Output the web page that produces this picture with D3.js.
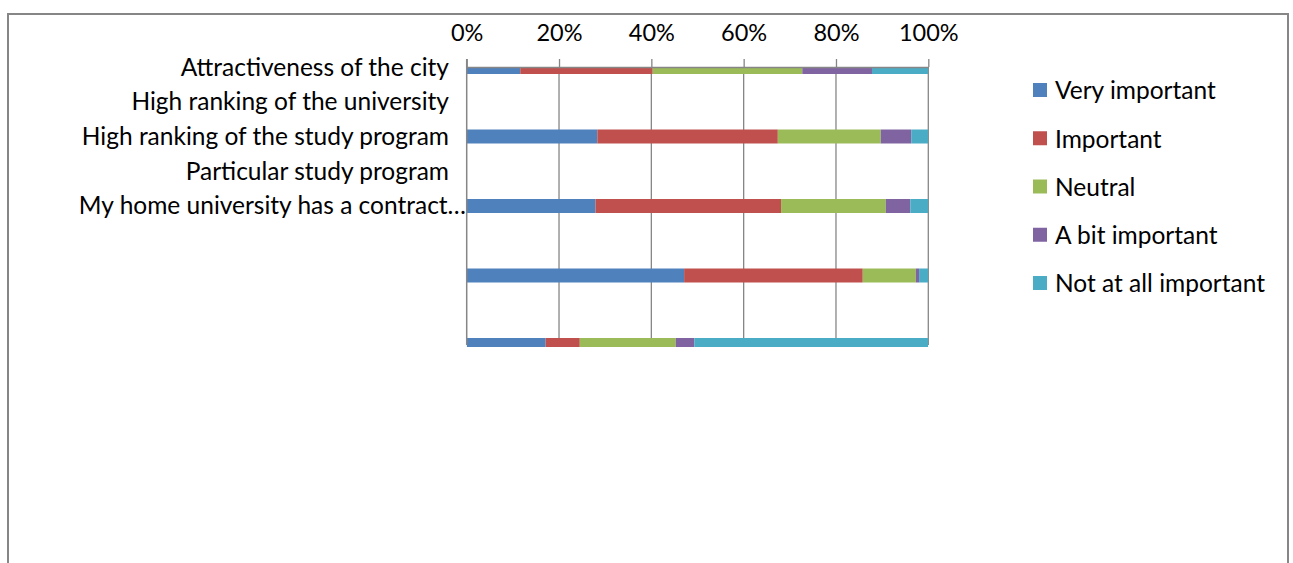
<!DOCTYPE html>
<html>
<head>
<meta charset="utf-8">
<script src="https://cdn.jsdelivr.net/npm/d3@7"></script>
<style>
  html, body { margin: 0; padding: 0; background: #fff; }
  svg { display: block; }
  text { font-family: Lato, "Open Sans", sans-serif; fill: #000; }
</style>
</head>
<body>
<svg id="chart" width="1293" height="563"></svg>
<script>
const categories = [
  "Attractiveness of the city",
  "High ranking of the university",
  "High ranking of the study program",
  "Particular study program",
  "My home university has a contract…"
];
const seriesNames = ["Very important", "Important", "Neutral", "A bit important", "Not at all important"];
const veryImportant = [11.6, 28.3, 27.9, 47.1, 17.1];
const important     = [28.7, 39.1, 40.2, 38.7, 7.4];
const neutral       = [32.4, 22.3, 22.7, 11.5, 20.8];
const aBitImportant = [15.1, 6.6, 5.3, 0.7, 4.0];
const notAtAll      = [12.2, 3.7, 3.9, 2.0, 50.7];
const tickValues = [0, 0.2, 0.4, 0.6, 0.8, 1.0];
const colors = ["#4F81BD", "#C0504D", "#9BBB59", "#8064A2", "#4BACC6"];

const seriesValues = [veryImportant, important, neutral, aBitImportant, notAtAll];
const rows = categories.map((c, i) => {
  const r = { category: c };
  seriesNames.forEach((s, j) => r[s] = seriesValues[j][i]);
  return r;
});
const stacked = d3.stack().keys(seriesNames).offset(d3.stackOffsetExpand)(rows);

const svg = d3.select("#chart");

// frame
svg.append("rect").attr("x", 8).attr("y", 14).attr("width", 1280).attr("height", 600)
  .attr("fill", "none").attr("stroke", "#868686").attr("stroke-width", 2);

const plotTop = 67, plotBottom = 345;
const x = d3.scaleLinear().domain([0, 1]).range([466.7, 928.3]);
const yBar = d3.scalePoint().domain(categories).range([plotTop, plotBottom]);
const yLabel = d3.scalePoint().domain(categories).range([plotTop, plotTop + 4 * 34.6]);

// clip
svg.append("clipPath").attr("id", "plotclip").append("rect")
  .attr("x", x(0)).attr("y", plotTop).attr("width", x(1) - x(0)).attr("height", plotBottom + 2 - plotTop);

// gridlines
svg.append("g").selectAll("line").data(tickValues.slice(1)).join("line")
  .attr("x1", d => x(d)).attr("x2", d => x(d))
  .attr("y1", plotTop).attr("y2", plotBottom)
  .attr("stroke", "#868686").attr("stroke-width", 1.3);

// bars
const barH = 14;
svg.append("g").attr("clip-path", "url(#plotclip)")
  .selectAll("g").data(stacked).join("g")
  .attr("fill", (d, i) => colors[i])
  .selectAll("rect").data(d => d).join("rect")
  .attr("x", d => x(d[0]))
  .attr("width", d => x(d[1]) - x(d[0]))
  .attr("y", d => yBar(d.data.category) - barH / 2)
  .attr("height", barH);

// top axis
const axis = d3.axisTop(x).tickValues(tickValues).tickFormat(d3.format(".0%")).tickSize(8).tickSizeOuter(0).tickPadding(18);
const ax = svg.append("g").attr("transform", `translate(0,${plotTop})`).call(axis);
ax.select(".domain").attr("stroke", "#868686").attr("stroke-width", 1.5);
ax.selectAll(".tick line").attr("stroke", "#868686").attr("stroke-width", 1.3);
ax.selectAll(".tick text").attr("font-size", 23.5).attr("font-family", "Lato, sans-serif").attr("fill", "#000");

// left axis line
svg.append("line").attr("x1", x(0)).attr("x2", x(0)).attr("y1", plotTop - 8).attr("y2", plotBottom)
  .attr("stroke", "#868686").attr("stroke-width", 1.5);

// category labels
svg.append("g").selectAll("text").data(categories).join("text")
  .attr("x", (d, i) => i === categories.length - 1 ? 466 : 449)
  .attr("y", d => yLabel(d) + 8.7)
  .attr("text-anchor", "end")
  .attr("font-size", 24.5)
  .text(d => d);

// legend
const legend = svg.append("g").selectAll("g").data(seriesNames).join("g")
  .attr("transform", (d, i) => `translate(1033,${90 + i * 48.25})`);
legend.append("rect").attr("x", 0).attr("y", -7).attr("width", 14).attr("height", 14)
  .attr("fill", (d, i) => colors[i]);
legend.append("text").attr("x", 22).attr("y", 9.3).attr("font-size", 24.5).text(d => d);
</script>
</body>
</html>
